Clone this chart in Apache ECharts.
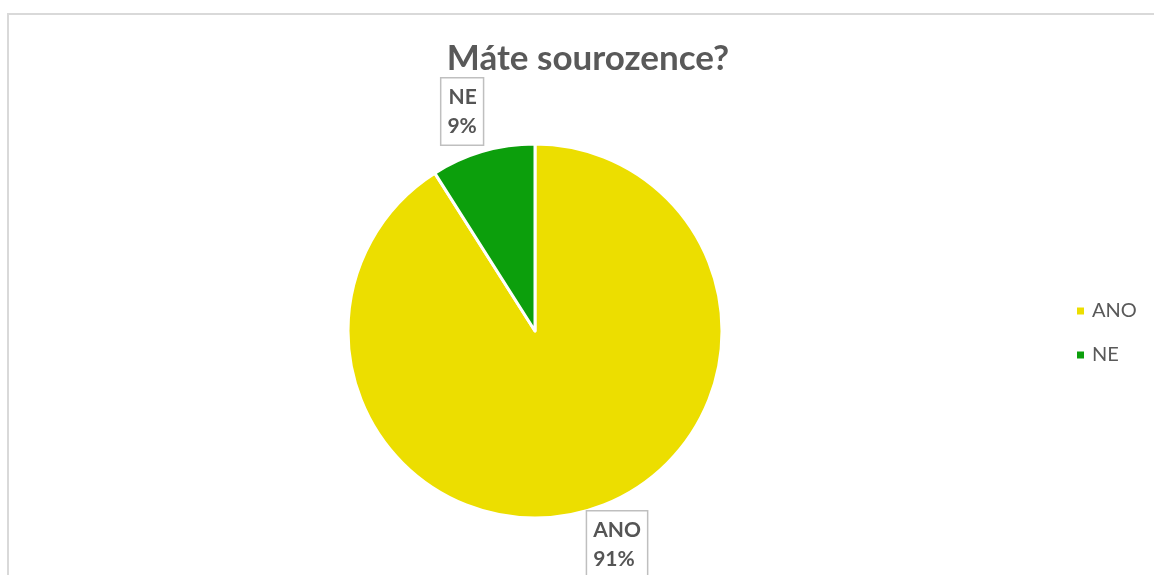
<!DOCTYPE html>
<html><head><meta charset="utf-8">
<script src="https://cdn.jsdelivr.net/npm/echarts@6/dist/echarts.min.js"></script>
<style>html,body{margin:0;padding:0;background:#fff}#c{width:1154px;height:575px}</style>
</head><body><div id="c"></div>
<script>
const categories = ['ANO', 'NE'];
const values = [91, 9];
const colors = ['#ECDE00', '#0C9F0C'];
const titleText = 'Máte sourozence?';

const chart = echarts.init(document.getElementById('c'));
const FONT = 'Lato';
const labelDy = [34, -40];
chart.setOption({
  backgroundColor: '#fff',
  animation: false,
  title: {
    text: titleText, left: 583, top: 36, textAlign: 'center',
    textStyle: { fontFamily: FONT, fontSize: 35, fontWeight: 'bold', color: '#595959' }
  },
  legend: {
    orient: 'vertical', left: 1070, top: 296, itemWidth: 9, itemHeight: 9, itemGap: 24,
    icon: 'rect',
    textStyle: { fontFamily: FONT, fontSize: 20, color: '#595959', padding: [0, 0, 0, 2] },
    data: categories
  },
  graphic: [{
    type: 'rect', shape: { x: 8, y: 14, width: 1200, height: 700 },
    style: { fill: 'none', stroke: '#d9d9d9', lineWidth: 2 }, silent: true
  }],
  series: [{
    type: 'pie', center: [535, 331], radius: 187, startAngle: 90, clockwise: true,
    itemStyle: { borderColor: '#fff', borderWidth: 3 },
    label: {
      show: true, position: 'outside', formatter: '{b}\n{d}%',
      fontFamily: FONT, fontSize: 21, fontWeight: 'bold', color: '#555555', lineHeight: 29,
      backgroundColor: '#fff', borderColor: '#bfbfbf', borderWidth: 1.5, padding: [5, 6, 3, 6],
      distanceToLabelLine: 0
    },
    labelLine: { show: false, length: 0, length2: 0 },
    labelLayout: function (p) { return { dy: labelDy[p.dataIndex] }; },
    data: categories.map((c, i) => ({ name: c, value: values[i], itemStyle: { color: colors[i] } }))
  }]
});
</script></body></html>
